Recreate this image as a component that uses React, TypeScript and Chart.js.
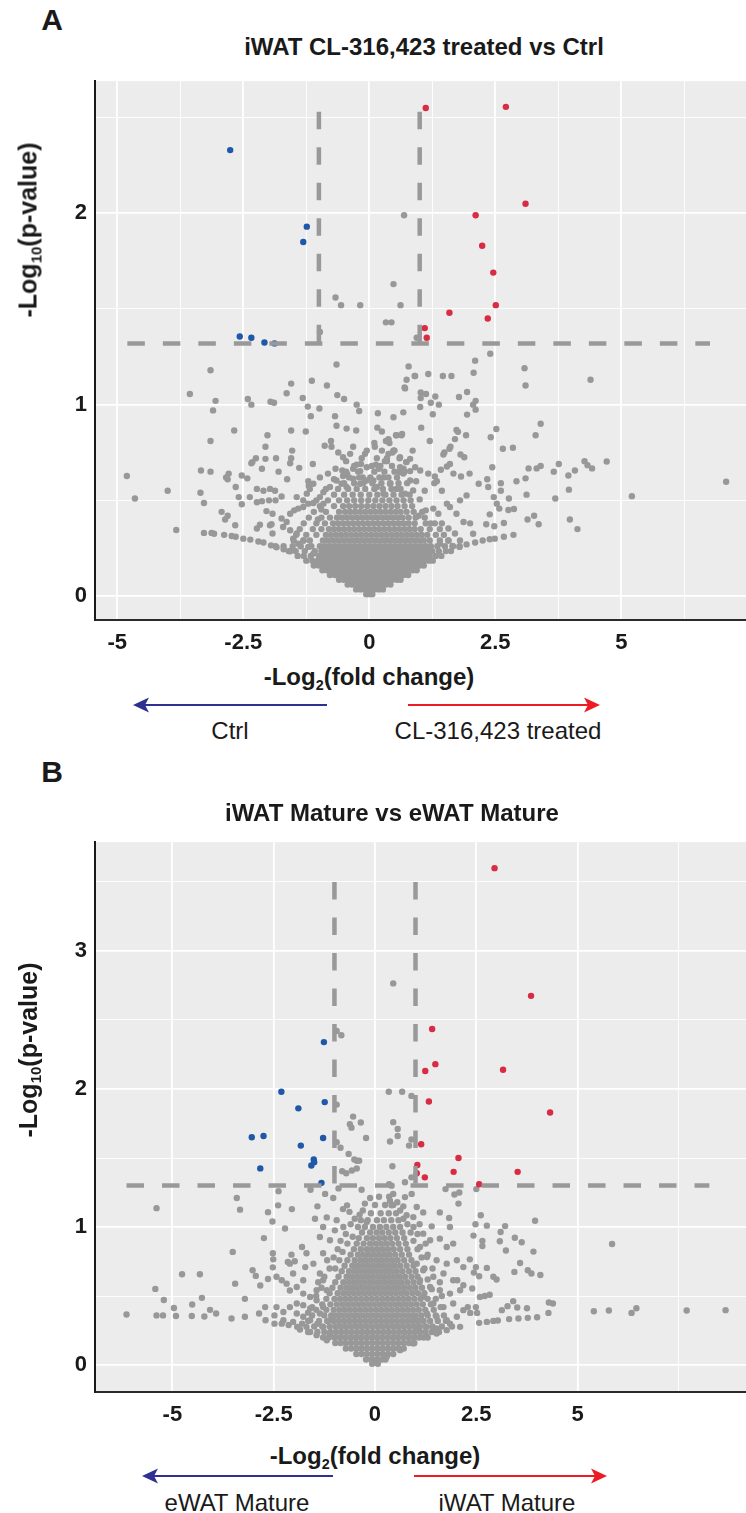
import React, { useEffect, useRef } from "react";
import { Chart, registerables } from "chart.js";
Chart.register(...registerables);

type P = [number, number];
const FONT = '"Liberation Sans", Arial, Helvetica, sans-serif';

// ---------------- Panel A : iWAT CL-316,423 treated vs Ctrl ----------------
const A_RED: P[] = [[1.12,2.55],[2.71,2.556],[3.10,2.05],[2.11,1.99],[2.24,1.83],[2.46,1.69],[2.51,1.52],[1.59,1.48],[2.35,1.45],[1.10,1.40],[1.14,1.35]];
const A_BLUE: P[] = [[-2.76,2.33],[-1.24,1.93],[-1.31,1.85],[-2.57,1.356],[-2.34,1.35],[-2.08,1.325],[-1.88,1.32]];
const A_GRAY: P[] = [
  [0.69,1.99],[0.48,1.63],[-0.67,1.56],[-0.56,1.52],[-0.18,1.52],[0.62,1.52],[0.33,1.43],[0.44,1.43],[-0.98,1.38],[0.94,1.35],
  [2.10,1.23],[2.40,1.266],[3.08,1.19],[4.39,1.13],[3.10,1.10],[0.78,1.20],[0.74,1.13],[0.70,1.09],[0.90,1.15],[1.17,1.16],[1.46,1.15],[1.63,1.15],[2.07,1.167],
  [1.02,1.064],[1.125,1.056],[1.31,1.043],[1.02,1.035],[1.22,1.01],[1.38,1.0],[1.01,0.988],[1.26,0.95],[1.78,1.04],[1.94,1.066],[2.11,1.02],[2.06,1.0],[2.11,0.974],[1.94,0.948],
  [1.03,0.88],[1.20,0.81],[1.73,0.868],[1.76,0.858],[1.92,0.84],[1.70,0.82],[2.52,0.873],[2.41,0.83],[3.40,0.90],[3.30,0.84],[2.65,0.77],[2.85,0.775],[1.61,0.78],[1.59,0.77],[1.49,0.75],[1.47,0.74],[1.81,0.74],[1.885,0.725],
  [0.86,0.76],[0.81,0.717],[0.73,0.70],[0.61,0.673],[0.68,0.665],[0.81,0.653],[0.65,0.847],[0.53,0.84],[0.38,0.82],[0.33,0.81],[0.49,0.76],[0.46,0.75],[0.35,0.705],
  [2.44,0.673],[1.42,0.66],[1.54,0.677],[1.60,0.69],[1.17,0.64],[1.30,0.625],[1.29,0.59],[1.34,0.60],[1.67,0.64],[1.82,0.625],[1.99,0.64],[2.17,0.587],[2.34,0.61],[2.36,0.57],[2.61,0.59],[2.61,0.55],
  [2.92,0.60],[3.10,0.615],[3.16,0.667],[3.32,0.667],[3.40,0.68],[3.66,0.65],[3.76,0.69],[3.95,0.63],[4.08,0.656],[4.27,0.705],[4.33,0.684],[4.42,0.667],[4.71,0.703],[7.08,0.597],[5.21,0.522],[3.96,0.556],[3.69,0.51],[3.12,0.53],[2.77,0.51],[2.47,0.517],[2.53,0.483],[2.58,0.457],[2.76,0.45],[2.87,0.455],[2.39,0.427],[2.32,0.375],[2.48,0.365],[2.67,0.382],[3.14,0.40],[3.27,0.42],[3.36,0.375],[3.98,0.40],[4.13,0.35],
  [2.06,0.326],[2.10,0.28],[2.25,0.29],[2.39,0.297],[2.49,0.30],[2.67,0.31],[2.86,0.32],[1.79,0.257],
  [2.0,0.38],[1.87,0.387],[1.73,0.43],[1.60,0.465],[1.80,0.50],[1.93,0.526],[1.44,0.55],[1.54,0.483],[1.37,0.43],[1.27,0.457],[1.44,0.38],[1.57,0.353],[1.70,0.327],[1.80,0.29],[1.57,0.29],[1.40,0.274],[1.65,0.262],[1.93,0.27],
  [-0.65,1.21],[-3.15,1.18],[-1.55,1.11],[-1.14,1.125],[-0.84,1.10],[-3.56,1.056],[-1.64,1.06],[-1.32,1.035],[-0.635,1.05],[-0.50,1.03],[-3.05,1.02],[-2.41,1.03],[-2.34,1.00],[-1.96,1.015],[-1.89,1.01],[-3.10,0.97],[-1.22,0.99],[-0.99,0.98],[-0.25,1.00],[-0.20,0.967],[-1.16,0.94],[-0.68,0.94],[0.17,0.955],
  [-2.68,0.865],[-1.55,0.865],[-1.26,0.86],[-0.65,0.89],[-0.45,0.875],[-0.26,0.865],[-2.02,0.84],[0.16,0.88],[0.25,0.86],[-3.15,0.81],[-2.06,0.78],[-1.53,0.76],[-0.885,0.785],[-0.75,0.78],[-0.76,0.81],[-0.615,0.75],[0.11,0.78],
  [-2.25,0.72],[-2.32,0.70],[-2.34,0.694],[-2.06,0.717],[-1.85,0.72],[-1.55,0.72],[-1.57,0.694],[-1.12,0.69],[-0.46,0.705],[-0.165,0.69],[-2.13,0.665],[-1.80,0.65],[-1.39,0.67],[-3.34,0.656],[-3.15,0.65],[-4.81,0.627],[-2.79,0.64],[-2.84,0.62],[-2.81,0.61],[-2.53,0.63],[-2.42,0.615],[-1.63,0.61],[-1.21,0.60],[-1.20,0.575],
  [-4.0,0.55],[-4.65,0.51],[-3.35,0.54],[-3.28,0.486],[-2.65,0.57],[-2.59,0.517],[-2.53,0.48],[-2.93,0.44],[-2.81,0.42],[-2.86,0.40],[-2.66,0.37],[-3.83,0.345],[-3.28,0.33],[-3.13,0.33],[-3.08,0.326],[-2.88,0.32],[-2.73,0.314],[-2.65,0.31],
  [-2.37,0.517],[-2.23,0.56],[-2.10,0.55],[-1.97,0.56],[-1.87,0.55],[-1.74,0.52],[-2.23,0.49],[-2.13,0.496],[-1.99,0.50],[-1.86,0.50],[-2.04,0.444],[-1.92,0.43],[-1.94,0.375],[-1.97,0.37],[-1.92,0.327],[-2.23,0.353],[-2.17,0.373],[-1.74,0.405],[-1.64,0.387],[-1.57,0.43],[-1.49,0.448],[-1.41,0.457],[-1.31,0.465],[-1.21,0.483],[-1.11,0.486],[-1.71,0.361],[-1.57,0.344],[-1.44,0.327],[-1.31,0.29],[-1.51,0.30],[-1.41,0.274],[-1.21,0.257],[-1.11,0.222],[-0.98,0.205],
  [-1.24,0.535],[-1.18,0.56],[-0.98,0.517],[-0.91,0.543],[-0.78,0.57],[-0.65,0.604],[-0.55,0.587],[-0.45,0.57],[-0.32,0.613],[-0.18,0.587],[-0.05,0.604],
  [-0.82,0.64],[-0.67,0.665],[-0.535,0.656],[-0.52,0.627],[-0.44,0.64],[-1.11,0.587],[-0.98,0.62],[-1.31,0.50],[-1.44,0.517],[-0.91,0.483],[-0.32,0.665],[-0.18,0.653],[-0.25,0.687],[-0.05,0.673],[-0.13,0.62],[-0.52,0.725],[-0.38,0.743],[-0.32,0.78],[-0.085,0.743],
  [0.13,0.687],[0.19,0.665],[0.31,0.705],[0.38,0.743],[0.48,0.76],[0.61,0.725],[0.74,0.70],[0.91,0.673],[1.01,0.656],[0.675,0.64],[0.81,0.604],[0.28,0.62],[0.41,0.587],[0.54,0.56],[0.71,0.535],[0.87,0.552],[0.15,0.57],[0.28,0.535],[0.08,0.604],
  [0.54,0.84],[0.64,0.84],[0.38,0.816],[0.48,0.934],[0.675,0.96],[0.91,1.15],[0.71,1.085],
  [-2.36,0.295],[-2.10,0.28],[-1.84,0.255],[-1.57,0.234],[-2.5,0.3],[-2.2,0.285],[-1.95,0.265],[-1.7,0.245],
  [-1.05,0.5],[-0.95,0.452],[1.0,0.505],[1.12,0.448],[0.93,0.6],[-0.7,0.61],[0.6,0.648],[-1.02,0.4],[1.22,0.38],[1.1,0.55],[-0.86,0.56],[0.98,0.42],
];
// dense centre of the cloud, read row by row: [y, x values]
const A_CORE: [number, number[]][] = [
  [0.01,[-0.06,0.0,0.06]],
  [0.035,[-0.26,-0.17,-0.08,0.02,0.1,0.19,0.27]],
  [0.06,[-0.43,-0.34,-0.25,-0.15,-0.05,0.04,0.14,0.23,0.33,0.42]],
  [0.085,[-0.6,-0.51,-0.41,-0.31,-0.22,-0.12,-0.02,0.08,0.17,0.27,0.36,0.46,0.55,0.62]],
  [0.11,[-0.78,-0.68,-0.59,-0.49,-0.39,-0.29,-0.2,-0.1,0.0,0.1,0.2,0.3,0.39,0.49,0.58,0.68,0.77]],
  [0.135,[-0.93,-0.84,-0.74,-0.64,-0.54,-0.44,-0.34,-0.24,-0.14,-0.04,0.06,0.16,0.26,0.36,0.46,0.56,0.66,0.76,0.86,0.94]],
  [0.16,[-1.1,-1.0,-0.9,-0.8,-0.7,-0.6,-0.5,-0.4,-0.3,-0.2,-0.1,0.0,0.1,0.2,0.3,0.4,0.5,0.6,0.7,0.8,0.9,1.0,1.08]],
  [0.185,[-1.25,-1.13,-1.02,-0.92,-0.82,-0.72,-0.62,-0.52,-0.42,-0.32,-0.22,-0.12,-0.02,0.08,0.18,0.28,0.38,0.48,0.58,0.68,0.78,0.88,0.98,1.08,1.18,1.26]],
  [0.21,[-1.42,-1.3,-1.16,-1.0,-0.9,-0.8,-0.7,-0.6,-0.5,-0.4,-0.3,-0.2,-0.1,0.0,0.1,0.2,0.3,0.4,0.5,0.6,0.7,0.8,0.9,1.0,1.1,1.2,1.32,1.43]],
  [0.235,[-1.6,-1.46,-1.28,-1.08,-0.95,-0.85,-0.75,-0.65,-0.55,-0.45,-0.35,-0.25,-0.15,-0.05,0.05,0.15,0.25,0.35,0.45,0.55,0.65,0.75,0.85,0.95,1.05,1.15,1.25,1.38,1.52,1.62]],
  [0.26,[-1.86,-1.7,-1.52,-1.36,-1.15,-0.98,-0.88,-0.78,-0.68,-0.58,-0.48,-0.38,-0.28,-0.18,-0.08,0.02,0.12,0.22,0.32,0.42,0.52,0.62,0.72,0.82,0.92,1.02,1.12,1.22,1.35,1.5,1.66,1.79]],
  [0.29,[-1.5,-1.3,-1.18,-0.92,-0.82,-0.72,-0.62,-0.52,-0.42,-0.32,-0.22,-0.12,-0.02,0.08,0.18,0.28,0.38,0.48,0.58,0.68,0.78,0.88,0.98,1.08,1.2,1.4,1.57]],
  [0.32,[-1.45,-1.25,-1.05,-0.86,-0.76,-0.66,-0.56,-0.46,-0.36,-0.26,-0.16,-0.06,0.04,0.14,0.24,0.34,0.44,0.54,0.64,0.74,0.84,0.94,1.04,1.15,1.32,1.48]],
  [0.35,[-1.38,-1.12,-0.95,-0.8,-0.7,-0.6,-0.5,-0.4,-0.3,-0.2,-0.1,0.0,0.1,0.2,0.3,0.4,0.5,0.6,0.7,0.8,0.9,1.02,1.2,1.4]],
  [0.38,[-1.3,-1.05,-0.88,-0.72,-0.62,-0.52,-0.42,-0.32,-0.22,-0.12,-0.02,0.08,0.18,0.28,0.38,0.48,0.58,0.68,0.78,0.9,1.12,1.3]],
  [0.41,[-1.2,-0.95,-0.78,-0.64,-0.54,-0.44,-0.34,-0.24,-0.14,-0.04,0.06,0.16,0.26,0.36,0.46,0.56,0.66,0.78,0.92,1.1]],
  [0.44,[-1.1,-0.86,-0.6,-0.48,-0.38,-0.28,-0.18,-0.08,0.02,0.12,0.22,0.32,0.42,0.52,0.62,0.74,0.88,1.05]],
  [0.47,[-0.98,-0.7,-0.52,-0.4,-0.28,-0.16,-0.04,0.08,0.2,0.32,0.44,0.56,0.7,0.85]],
  [0.50,[-0.82,-0.6,-0.44,-0.3,-0.16,-0.02,0.12,0.26,0.4,0.54,0.68,0.82]],
  [0.53,[-0.7,-0.5,-0.33,-0.17,0.0,0.16,0.32,0.48,0.64,0.8]],
  [0.56,[-0.62,-0.42,-0.25,-0.08,0.1,0.27,0.44,0.62]],
  [0.59,[-0.5,-0.3,-0.12,0.06,0.24,0.42,0.58,0.75]],
  [0.62,[-0.4,-0.2,0.02,0.2,0.38,0.55]],
  [0.65,[-0.46,-0.22,0.1,0.3,0.5,0.7]],
  [0.68,[-0.3,0.05,0.22,0.45]],
  [0.72,[-0.15,0.15,0.35,0.6]],
  [0.76,[-0.05,0.25,0.5]],
  [0.8,[0.1,0.4]],
];
const A_HLINE: P[] = [[-4.8,1.32],[6.76,1.32]];
const A_VLINE_L: P[] = [[-1,2.53],[-1,1.32]];
const A_VLINE_R: P[] = [[1,2.53],[1,1.32]];
const A_X_TICKS = [-5,-3.75,-2.5,-1.25,0,1.25,2.5,3.75,5,6.25];
const A_X_LABELS = [-5,-2.5,0,2.5,5];
const A_Y_TICKS = [0,0.5,1,1.5,2,2.5];
const A_Y_LABELS = [0,1,2];

// ---------------- Panel B : iWAT Mature vs eWAT Mature ----------------
const B_RED: P[] = [[2.95,3.60],[3.85,2.675],[1.41,2.435],[1.49,2.18],[1.24,2.13],[3.16,2.14],[1.33,1.91],[4.32,1.83],[1.14,1.60],[2.06,1.50],[1.045,1.45],[1.94,1.40],[3.52,1.40],[1.23,1.36],[1.03,1.39],[2.57,1.31]];
const B_BLUE: P[] = [[-1.26,2.34],[-2.31,1.98],[-1.24,1.905],[-1.89,1.86],[-3.04,1.65],[-2.75,1.66],[-1.28,1.645],[-1.83,1.59],[-1.51,1.49],[-1.50,1.47],[-1.57,1.446],[-2.83,1.425],[-1.32,1.32]];
const B_GRAY: P[] = [
  [0.45,2.765],[-0.945,2.42],[-0.83,2.39],[0.34,1.98],[0.67,1.98],[0.90,1.95],[-0.945,1.887],[-0.54,1.80],[-0.62,1.745],[-0.58,1.72],[-0.35,1.757],[0.45,1.76],[0.56,1.71],[0.56,1.66],[0.37,1.62],[0.84,1.59],[0.90,1.634],[-0.22,1.645],[-0.945,1.615],[-0.85,1.574],[-0.65,1.53],[-0.51,1.49],[-0.45,1.48],[-0.39,1.48],[0.43,1.44],[-0.81,1.405],[-0.71,1.39],[-0.57,1.41],[-0.45,1.424],[0.74,1.325],[0.90,1.36],[0.35,1.31],[-0.33,1.27],[0.41,1.30],
  [1.74,1.275],[2.08,1.25],[1.96,1.236],[2.50,1.275],[2.06,1.17],[1.83,1.065],[1.85,1.0],[1.60,1.106],[1.40,1.005],[1.19,1.106],[1.03,1.145],
  [0.37,1.19],[0.41,1.157],[0.74,1.217],[0.905,1.24],[0.78,1.085],[0.945,1.072],
  [3.95,1.046],[5.85,0.877],[2.61,1.085],[2.48,1.02],[2.76,1.01],[3.21,1.007],[3.10,0.964],[2.43,0.938],[2.65,0.90],[2.65,0.863],[3.08,0.897],[3.23,0.83],[3.45,0.923],[3.62,0.89],[3.91,0.822],
  [2.34,0.766],[2.49,0.71],[2.76,0.704],[2.92,0.64],[3.0,0.62],[3.44,0.675],[3.58,0.74],[3.77,0.687],[3.86,0.663],[4.08,0.653],[2.03,0.615],[2.18,0.578],[2.44,0.67],[2.57,0.644],[2.40,0.555],[2.59,0.494],[2.71,0.50],[2.83,0.51],
  [3.41,0.463],[3.27,0.427],[3.51,0.417],[3.75,0.412],[3.13,0.398],[4.29,0.453],[4.39,0.446],[2.29,0.42],[2.49,0.42],[2.35,0.378],[2.52,0.378],[4.28,0.378],
  [2.57,0.306],[2.76,0.313],[2.92,0.32],[3.03,0.323],[3.31,0.333],[3.54,0.338],[3.77,0.342],[4.00,0.347],
  [5.40,0.39],[5.77,0.395],[6.33,0.378],[6.45,0.412],[7.69,0.395],[8.65,0.398],
  [2.10,0.277],[1.77,0.253],[1.52,0.229],[1.28,0.205],[0.945,0.157],[0.62,0.108],[0.29,0.06],
  [1.19,0.952],[1.36,0.904],[1.11,0.855],[1.60,0.916],[1.77,0.855],[1.93,0.88],[1.28,0.783],[1.52,0.759],[1.77,0.735],[2.02,0.759],[2.18,0.71],[1.19,0.687],[1.44,0.64],[1.69,0.663],[1.93,0.615],[1.36,0.566],[1.60,0.542],[1.85,0.518],[2.10,0.542],[1.19,0.494],[1.44,0.446],[1.69,0.42],[1.93,0.446],[2.18,0.398],[1.28,0.374],[1.52,0.35],[1.77,0.325],[2.02,0.35],[1.11,0.615],[1.03,0.735],[1.15,0.325],[1.28,0.277],[1.52,0.265],[0.945,0.325],[1.03,0.253],
  [1.3,0.62],[1.22,0.7],[1.15,0.78],[1.05,0.84],[0.95,0.9],[0.88,0.96],[0.8,1.02],[0.7,1.06],[0.62,1.12],[0.55,1.18],[0.45,1.24],[1.4,0.55],[1.5,0.48],[1.62,0.42],[1.7,0.36],[1.85,0.3],[1.42,0.7],[1.3,0.8],[1.25,0.88],[1.05,0.95],[0.95,1.0],[0.7,1.15],[1.6,0.6],[1.65,0.5],[1.1,1.02],
  [-1.45,0.5],[-1.32,0.56],[-1.25,0.64],[-1.12,0.7],[-1.02,0.78],[-0.92,0.84],[-0.85,0.9],[-0.72,0.95],[-0.6,1.02],[-0.5,1.06],[-1.4,0.6],[-1.18,0.76],[-0.98,0.7],[-0.88,0.76],[-0.8,0.82],[-0.68,0.88],[-0.55,0.93],[-0.42,1.0],[-0.35,1.05],[-0.3,1.12],[-1.55,0.42],[-1.65,0.38],[-1.8,0.3],[-1.42,0.3],
  [-5.39,1.137],[-3.41,1.21],[-3.33,1.126],[-2.38,1.26],[-2.39,1.157],[-2.64,1.108],[-2.53,1.04],[-2.05,1.13],[-2.22,0.99],[-1.59,1.27],[-1.42,1.15],[-1.48,1.06],[-1.23,1.24],[-1.03,1.21],[-0.90,1.28],[-0.79,1.13],[-0.69,1.157],[-0.63,1.11],[-0.38,1.09],[-0.25,1.17],[-0.12,1.21],[-0.205,1.036],
  [-2.74,0.92],[-3.51,0.82],[-3.45,0.59],[-3.02,0.687],[-2.94,0.646],[-2.83,0.576],[-2.64,0.624],[-2.52,0.81],[-2.51,0.766],[-2.52,0.708],[-2.06,0.80],[-2.15,0.747],[-1.98,0.752],[-1.72,0.71],[-1.80,0.855],
  [-4.76,0.658],[-4.32,0.658],[-5.42,0.552],[-5.21,0.472],[-6.13,0.366],[-5.39,0.36],[-5.23,0.36],[-4.91,0.356],[-4.96,0.414],[-4.51,0.439],[-4.27,0.487],[-4.52,0.356],[-4.21,0.352],[-4.07,0.40],[-3.92,0.374],[-3.54,0.338],[-3.21,0.35],[-3.21,0.48],
  [-2.86,0.374],[-2.71,0.42],[-2.70,0.325],[-2.48,0.36],[-2.48,0.30],[-2.30,0.30],[-2.13,0.29],[-1.92,0.277],[-1.85,0.258],[-1.65,0.24],[-1.44,0.217],[-1.19,0.18],
  [-2.43,0.64],[-2.30,0.615],[-2.18,0.59],[-2.10,0.54],[-1.93,0.566],[-1.77,0.518],[-1.60,0.494],[-1.44,0.47],[-1.28,0.615],[-1.19,0.542],[-1.36,0.663],[-1.52,0.735],[-1.69,0.81],[-1.28,0.81],[-1.11,0.904],[-1.36,0.928],[-0.99,0.976],[-1.28,1.0],[-0.78,1.0],[-1.19,1.07],[-0.945,1.05],
  [-2.43,0.42],[-2.26,0.385],[-2.10,0.42],[-1.93,0.374],[-1.77,0.35],[-1.60,0.325],[-2.26,0.325],[-2.02,0.313],[-1.69,0.277],[-1.28,0.277],[-1.36,0.374],[-1.11,0.325],[-1.28,0.42],[-1.11,0.229],[-1.93,0.446],[-1.77,0.434],[-1.60,0.41],[-1.44,0.542],[-1.77,0.615],[-2.02,0.663],[-2.10,0.735],
];
const B_CORE: [number, number[]][] = [
  [0.01,[-0.07,0.07]],
  [0.04,[-0.22,-0.09,0.04,0.17,0.26]],
  [0.08,[-0.46,-0.33,-0.2,-0.07,0.06,0.19,0.32,0.45]],
  [0.12,[-0.72,-0.59,-0.46,-0.33,-0.2,-0.07,0.06,0.19,0.32,0.45,0.58,0.71]],
  [0.16,[-0.98,-0.85,-0.72,-0.59,-0.46,-0.33,-0.2,-0.07,0.06,0.19,0.32,0.45,0.58,0.71,0.84,0.97]],
  [0.2,[-1.28,-1.14,-1.0,-0.87,-0.74,-0.61,-0.48,-0.35,-0.22,-0.09,0.04,0.17,0.3,0.43,0.56,0.69,0.82,0.95,1.08,1.2,1.3]],
  [0.24,[-1.6,-1.42,-1.25,-1.1,-0.96,-0.83,-0.7,-0.57,-0.44,-0.31,-0.18,-0.05,0.08,0.21,0.34,0.47,0.6,0.73,0.86,0.99,1.12,1.25,1.4,1.58]],
  [0.28,[-1.5,-1.3,-1.12,-0.98,-0.85,-0.72,-0.59,-0.46,-0.33,-0.2,-0.07,0.06,0.19,0.32,0.45,0.58,0.71,0.84,0.97,1.1,1.24,1.42,1.65,1.9]],
  [0.32,[-1.65,-1.38,-1.18,-1.02,-0.89,-0.76,-0.63,-0.5,-0.37,-0.24,-0.11,0.02,0.15,0.28,0.41,0.54,0.67,0.8,0.93,1.06,1.2,1.36,1.55,1.75]],
  [0.36,[-1.55,-1.25,-1.08,-0.95,-0.82,-0.69,-0.56,-0.43,-0.3,-0.17,-0.04,0.09,0.22,0.35,0.48,0.61,0.74,0.87,1.0,1.14,1.3,1.5]],
  [0.40,[-1.45,-1.2,-1.02,-0.88,-0.75,-0.62,-0.49,-0.36,-0.23,-0.1,0.03,0.16,0.29,0.42,0.55,0.68,0.81,0.94,1.08,1.24,1.45]],
  [0.44,[-1.3,-1.1,-0.94,-0.8,-0.67,-0.54,-0.41,-0.28,-0.15,-0.02,0.11,0.24,0.37,0.5,0.63,0.76,0.89,1.03,1.18,1.38]],
  [0.48,[-1.2,-1.0,-0.86,-0.73,-0.6,-0.47,-0.34,-0.21,-0.08,0.05,0.18,0.31,0.44,0.57,0.7,0.83,0.97,1.12,1.3]],
  [0.52,[-1.12,-0.92,-0.78,-0.65,-0.52,-0.39,-0.26,-0.13,0.0,0.13,0.26,0.39,0.52,0.65,0.78,0.92,1.06,1.22]],
  [0.56,[-1.05,-0.85,-0.71,-0.58,-0.45,-0.32,-0.19,-0.06,0.07,0.2,0.33,0.46,0.59,0.72,0.86,1.0,1.16]],
  [0.60,[-0.98,-0.78,-0.64,-0.51,-0.38,-0.25,-0.12,0.01,0.14,0.27,0.4,0.53,0.66,0.8,0.95,1.1]],
  [0.64,[-0.9,-0.7,-0.57,-0.44,-0.31,-0.18,-0.05,0.08,0.21,0.34,0.47,0.6,0.74,0.9,1.05]],
  [0.68,[-0.82,-0.64,-0.5,-0.37,-0.24,-0.11,0.02,0.15,0.28,0.41,0.54,0.68,0.84,1.0]],
  [0.72,[-0.75,-0.56,-0.43,-0.3,-0.17,-0.04,0.09,0.22,0.35,0.48,0.62,0.78,0.95]],
  [0.76,[-0.68,-0.5,-0.36,-0.23,-0.1,0.03,0.16,0.29,0.42,0.56,0.72,0.9]],
  [0.80,[-0.6,-0.42,-0.29,-0.16,-0.03,0.1,0.23,0.36,0.5,0.66,0.84]],
  [0.84,[-0.52,-0.35,-0.2,-0.07,0.06,0.19,0.32,0.46,0.62,0.8]],
  [0.88,[-0.45,-0.28,-0.12,0.02,0.15,0.28,0.42,0.58,0.76]],
  [0.92,[-0.4,-0.2,-0.05,0.1,0.24,0.38,0.54,0.72]],
  [0.96,[-0.32,-0.12,0.04,0.18,0.34,0.5,0.68]],
  [1.00,[-0.25,-0.05,0.12,0.28,0.45,0.62]],
  [1.05,[-0.18,0.05,0.22,0.4,0.58]],
  [1.10,[-0.1,0.14,0.34,0.52]],
  [1.16,[0.0,0.25,0.45]],
  [1.22,[0.1,0.35]],
];
const B_HLINE: P[] = [[-6.13,1.301],[8.25,1.301]];
const B_VLINE_L: P[] = [[-1,3.5],[-1,1.301]];
const B_VLINE_R: P[] = [[1,3.5],[1,1.301]];
const B_X_TICKS = [-5,-2.5,0,2.5,5,7.5];
const B_X_LABELS = [-5,-2.5,0,2.5,5];
const B_Y_TICKS = [0,0.5,1,1.5,2,2.5,3,3.5];
const B_Y_LABELS = [0,1,2,3];

const GRAY = "#989898";
const RED = "#D92B44";
const BLUE = "#1F58A8";
const DASH = "#999999";

const pts = (a: P[]) => a.map(([x, y]) => ({ x, y }));
const rows = (r: [number, number[]][]) => r.flatMap(([y, xs]) => xs.map((x) => ({ x, y })));

type Cfg = {
  top: number; height: number; xAxisH: number;
  xMin: number; xMax: number; yMin: number; yMax: number;
  xTicks: number[]; xLabels: number[]; yTicks: number[]; yLabels: number[];
  red: P[]; blue: P[]; gray: P[]; core: [number, number[]][];
  hline: P[]; vl: P[]; vr: P[];
};

const A_CFG: Cfg = {
  top: 60, height: 600, xAxisH: 40,
  xMin: -5.442, xMax: 7.474, yMin: -0.125, yMax: 2.69,
  xTicks: A_X_TICKS, xLabels: A_X_LABELS, yTicks: A_Y_TICKS, yLabels: A_Y_LABELS,
  red: A_RED, blue: A_BLUE, gray: A_GRAY, core: A_CORE, hline: A_HLINE, vl: A_VLINE_L, vr: A_VLINE_R,
};
const B_CFG: Cfg = {
  top: 821, height: 620, xAxisH: 49,
  xMin: -6.908, xMax: 9.154, yMin: -0.195, yMax: 3.788,
  xTicks: B_X_TICKS, xLabels: B_X_LABELS, yTicks: B_Y_TICKS, yLabels: B_Y_LABELS,
  red: B_RED, blue: B_BLUE, gray: B_GRAY, core: B_CORE, hline: B_HLINE, vl: B_VLINE_L, vr: B_VLINE_R,
};

function Volcano({ cfg }: { cfg: Cfg }) {
  const ref = useRef<HTMLCanvasElement>(null);
  useEffect(() => {
    const bg = {
      id: "panelBg",
      beforeDraw(chart: any) {
        const { ctx, chartArea: a } = chart;
        ctx.save();
        ctx.fillStyle = "#EBECEB";
        ctx.fillRect(a.left, a.top, a.right - a.left, a.bottom - a.top);
        ctx.restore();
      },
    };
    const dotDs = (data: any[], color: string, order: number) => ({
      data, backgroundColor: color, borderWidth: 0, pointRadius: 3.2, pointHoverRadius: 3.2, order,
    });
    const lineDs = (data: P[]) => ({
      data: pts(data), showLine: true, borderColor: DASH, borderWidth: 4.5, borderDash: [17.5, 18],
      borderCapStyle: "butt", pointRadius: 0, fill: false, order: 0,
    });
    const tickFont = { family: FONT, size: 22, weight: "bold" as const };
    const chart = new Chart(ref.current as HTMLCanvasElement, {
      type: "scatter",
      data: {
        datasets: [
          lineDs(cfg.hline) as any,
          lineDs(cfg.vl) as any,
          lineDs(cfg.vr) as any,
          dotDs(pts(cfg.red), RED, 1),
          dotDs(pts(cfg.blue), BLUE, 1),
          dotDs([...rows(cfg.core), ...pts(cfg.gray)], GRAY, 2),
        ],
      },
      options: {
        animation: false,
        responsive: false,
        events: [],
        layout: { padding: { top: 20, left: 0, right: 0, bottom: 0 }, autoPadding: false } as any,
        plugins: { legend: { display: false }, tooltip: { enabled: false }, title: { display: false } },
        scales: {
          x: {
            type: "linear", min: cfg.xMin, max: cfg.xMax,
            afterBuildTicks: (s: any) => { s.ticks = cfg.xTicks.map((v) => ({ value: v })); },
            afterFit: (s: any) => { s.height = cfg.xAxisH; },
            ticks: {
              autoSkip: false, maxRotation: 0, minRotation: 0, padding: 10, color: "#1a1a1a", font: tickFont,
              callback: (v: any) => (cfg.xLabels.includes(Number(v)) ? String(v) : ""),
            },
            grid: {
              color: "#FFFFFF", drawTicks: false,
              lineWidth: (c: any) => (cfg.xLabels.includes(c.tick?.value) ? 1.8 : 0.9),
            },
            border: { display: true, color: "#2a2a2a", width: 2 },
          },
          y: {
            type: "linear", min: cfg.yMin, max: cfg.yMax,
            afterBuildTicks: (s: any) => { s.ticks = cfg.yTicks.map((v) => ({ value: v })); },
            afterFit: (s: any) => { s.width = 95; },
            ticks: {
              autoSkip: false, padding: 8, color: "#1a1a1a", font: tickFont,
              callback: (v: any) => (cfg.yLabels.includes(Number(v)) ? String(v) : ""),
            },
            grid: {
              color: "#FFFFFF", drawTicks: false,
              lineWidth: (c: any) => (cfg.yLabels.includes(c.tick?.value) ? 1.8 : 0.9),
            },
            border: { display: true, color: "#1a1a1a", width: 2 },
          },
        },
      },
      plugins: [bg],
    });
    return () => chart.destroy();
  }, [cfg]);
  return (
    <canvas
      ref={ref}
      width={746}
      height={cfg.height}
      style={{ position: "absolute", left: 0, top: cfg.top, width: 746, height: cfg.height }}
    />
  );
}

function T({ x, y, size, bold, rotate, children }: any) {
  return (
    <div
      style={{
        position: "absolute", left: x, top: y, fontSize: size, lineHeight: 1,
        fontWeight: bold ? 700 : 400, whiteSpace: "nowrap", color: "#1a1a1a",
        transform: `translate(-50%, -50%)${rotate ? " rotate(-90deg)" : ""}`,
      }}
    >
      {children}
    </div>
  );
}

const Sub = ({ children }: any) => (
  <span style={{ fontSize: "0.6em", verticalAlign: "-0.32em", lineHeight: 0 }}>{children}</span>
);

function Arrow({ x1, x2, y, color }: { x1: number; x2: number; y: number; color: string }) {
  const dir = x2 < x1 ? -1 : 1;
  const back = x2 - dir * 16;
  const notch = x2 - dir * 12;
  return (
    <g>
      <line x1={x1} y1={y} x2={notch} y2={y} stroke={color} strokeWidth={2.2} />
      <path d={`M ${x2} ${y} L ${back} ${y - 7.5} L ${notch} ${y} L ${back} ${y + 7.5} Z`} fill={color} />
    </g>
  );
}

export default function App() {
  return (
    <div
      style={{
        position: "absolute", left: 0, top: 0, width: 746, height: 1513, background: "#fff",
        fontFamily: FONT, overflow: "hidden",
      }}
    >
      <Volcano cfg={A_CFG} />
      <Volcano cfg={B_CFG} />

      <T x={52} y={20} size={30} bold>A</T>
      <T x={424} y={47} size={24} bold>iWAT CL-316,423 treated vs Ctrl</T>
      <T x={369} y={677} size={24} bold>-Log<Sub>2</Sub>(fold change)</T>
      <T x={28} y={230} size={25} bold rotate>-Log<Sub>10</Sub>(p-value)</T>
      <T x={230} y={731} size={24}>Ctrl</T>
      <T x={498} y={731} size={24}>CL-316,423 treated</T>

      <T x={52} y={772} size={30} bold>B</T>
      <T x={392} y={813} size={24} bold>iWAT Mature vs eWAT Mature</T>
      <T x={375} y={1456} size={24} bold>-Log<Sub>2</Sub>(fold change)</T>
      <T x={28} y={1050} size={25} bold rotate>-Log<Sub>10</Sub>(p-value)</T>
      <T x={237} y={1503} size={24}>eWAT Mature</T>
      <T x={507} y={1503} size={24}>iWAT Mature</T>

      <svg width={746} height={1513} style={{ position: "absolute", left: 0, top: 0 }}>
        <Arrow x1={327} x2={133} y={705} color="#2E3192" />
        <Arrow x1={408} x2={600} y={705} color="#ED1C24" />
        <Arrow x1={333} x2={142} y={1476} color="#2E3192" />
        <Arrow x1={414} x2={607} y={1476} color="#ED1C24" />
      </svg>
    </div>
  );
}
